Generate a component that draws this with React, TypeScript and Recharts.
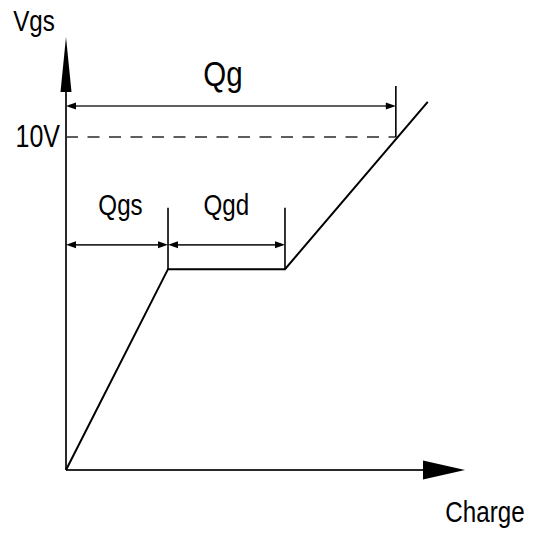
import React from "react";
import { LineChart, Line, XAxis, YAxis, ReferenceLine, ReferenceDot } from "recharts";

// gate charge curve, arbitrary charge units vs volts
const CHARGE = [0, 15.34, 32.93, 54.4];
const VGS = [0, 6.03, 6.03, 11.05];

const X_MAX = 60;
const Y_MAX = 13;
const Y_TICKS = [10];

const QGS_END = 15.34;
const QGD_END = 32.93;
const QG_END = 49.6;
const V_TARGET = 10;
const QG_ARROW_Y = 10.93;
const QG_TICK_TOP = 11.53;
const SUB_ARROW_Y = 6.76;
const SUB_TICK_TOP = 7.87;

const data = CHARGE.map((q, i) => ({ q, v: VGS[i] }));

const FONT = "'Liberation Sans', Arial, sans-serif";
const NARROW = 0.82; // squeeze to mimic a narrow face
const AXIS_COLOR = "#2a2a2a";

type SegProps = { x1?: number; y1?: number; x2?: number; y2?: number };

// line with filled arrowheads; len/half set the head size
function arrowShape(len: number, half: number, start: boolean, end: boolean, width = 1.6) {
  return (p: SegProps) => {
    const x1 = p.x1 ?? 0, y1 = p.y1 ?? 0, x2 = p.x2 ?? 0, y2 = p.y2 ?? 0;
    const d = Math.hypot(x2 - x1, y2 - y1) || 1;
    const ux = (x2 - x1) / d, uy = (y2 - y1) / d;
    const nx = -uy, ny = ux;
    const head = (tx: number, ty: number, dir: number) => {
      const bx = tx - dir * ux * len, by = ty - dir * uy * len;
      return `${tx},${ty} ${bx + nx * half},${by + ny * half} ${bx - nx * half},${by - ny * half}`;
    };
    const sx = start ? x1 + ux * len * 0.8 : x1, sy = start ? y1 + uy * len * 0.8 : y1;
    const ex = end ? x2 - ux * len * 0.8 : x2, ey = end ? y2 - uy * len * 0.8 : y2;
    return (
      <g>
        <line x1={sx} y1={sy} x2={ex} y2={ey} stroke={AXIS_COLOR} strokeWidth={width} />
        {start && <polygon points={head(x1, y1, -1)} fill="#000" />}
        {end && <polygon points={head(x2, y2, 1)} fill="#000" />}
      </g>
    );
  };
}

function NarrowText({ x, y, text, size, anchor = "middle" }: { x: number; y: number; text: string; size: number; anchor?: string }) {
  return (
    <text
      transform={`translate(${x},${y}) scale(${NARROW},1)`}
      textAnchor={anchor}
      dominantBaseline="central"
      fontSize={size}
      fontFamily={FONT}
      fill="#000"
    >
      {text}
    </text>
  );
}

function textShape(text: string, size = 29.5) {
  return (p: { cx?: number; cy?: number }) => <NarrowText x={p.cx ?? 0} y={p.cy ?? 0} text={text} size={size} />;
}

function VTick(props: { x?: number; y?: number; payload?: { value: number } }) {
  return <NarrowText x={(props.x ?? 0) - 4} y={props.y ?? 0} text={`${props.payload?.value}V`} size={30.5} anchor="end" />;
}

export default function App() {
  return (
    <div style={{ position: "absolute", left: 0, top: 0, background: "#fff" }}>
      <LineChart width={536} height={537} data={data} margin={{ top: 37, right: 71, bottom: 67, left: 0 }}>
        <XAxis type="number" dataKey="q" domain={[0, X_MAX]} hide />
        <YAxis
          type="number"
          domain={[0, Y_MAX]}
          ticks={Y_TICKS}
          width={66}
          axisLine={false}
          tickLine={false}
          tickSize={0}
          tick={<VTick />}
        />

        {/* axes */}
        <ReferenceLine segment={[{ x: 0, y: 0 }, { x: X_MAX, y: 0 }]} ifOverflow="visible" shape={arrowShape(42, 9.5, false, true, 2)} />
        <ReferenceLine segment={[{ x: 0, y: 0 }, { x: 0, y: Y_MAX }]} ifOverflow="visible" shape={arrowShape(55, 5.5, false, true, 2)} />

        {/* 10V level */}
        <ReferenceLine segment={[{ x: 0, y: V_TARGET }, { x: QG_END, y: V_TARGET }]} ifOverflow="visible" stroke={AXIS_COLOR} strokeWidth={1.5} strokeDasharray="12 9.5" />

        {/* Qg dimension */}
        <ReferenceLine segment={[{ x: QG_END, y: V_TARGET }, { x: QG_END, y: QG_TICK_TOP }]} ifOverflow="visible" stroke="#000" strokeWidth={1.6} />
        <ReferenceLine segment={[{ x: 0, y: QG_ARROW_Y }, { x: QG_END, y: QG_ARROW_Y }]} ifOverflow="visible" shape={arrowShape(10, 3.5, true, true)} />

        {/* Qgs / Qgd dimensions */}
        <ReferenceLine segment={[{ x: QGS_END, y: VGS[1] }, { x: QGS_END, y: SUB_TICK_TOP }]} ifOverflow="visible" stroke="#000" strokeWidth={1.6} />
        <ReferenceLine segment={[{ x: QGD_END, y: VGS[2] }, { x: QGD_END, y: SUB_TICK_TOP }]} ifOverflow="visible" stroke="#000" strokeWidth={1.6} />
        <ReferenceLine segment={[{ x: 0, y: SUB_ARROW_Y }, { x: QGS_END, y: SUB_ARROW_Y }]} ifOverflow="visible" shape={arrowShape(10, 3.5, true, true)} />
        <ReferenceLine segment={[{ x: QGS_END, y: SUB_ARROW_Y }, { x: QGD_END, y: SUB_ARROW_Y }]} ifOverflow="visible" shape={arrowShape(10, 3.5, true, true)} />

        <Line type="linear" dataKey="v" stroke="#000" strokeWidth={2} dot={false} isAnimationActive={false} />

        {/* labels */}
        <ReferenceDot x={-4.81} y={13.48} r={0} ifOverflow="visible" shape={textShape("Vgs")} />
        <ReferenceDot x={23.6} y={11.9} r={0} ifOverflow="visible" shape={textShape("Qg", 36)} />
        <ReferenceDot x={8.2} y={7.94} r={0} ifOverflow="visible" shape={textShape("Qgs")} />
        <ReferenceDot x={24.1} y={7.94} r={0} ifOverflow="visible" shape={textShape("Qgd")} />
        <ReferenceDot x={63.0} y={-1.276} r={0} ifOverflow="visible" shape={textShape("Charge")} />
      </LineChart>
    </div>
  );
}
